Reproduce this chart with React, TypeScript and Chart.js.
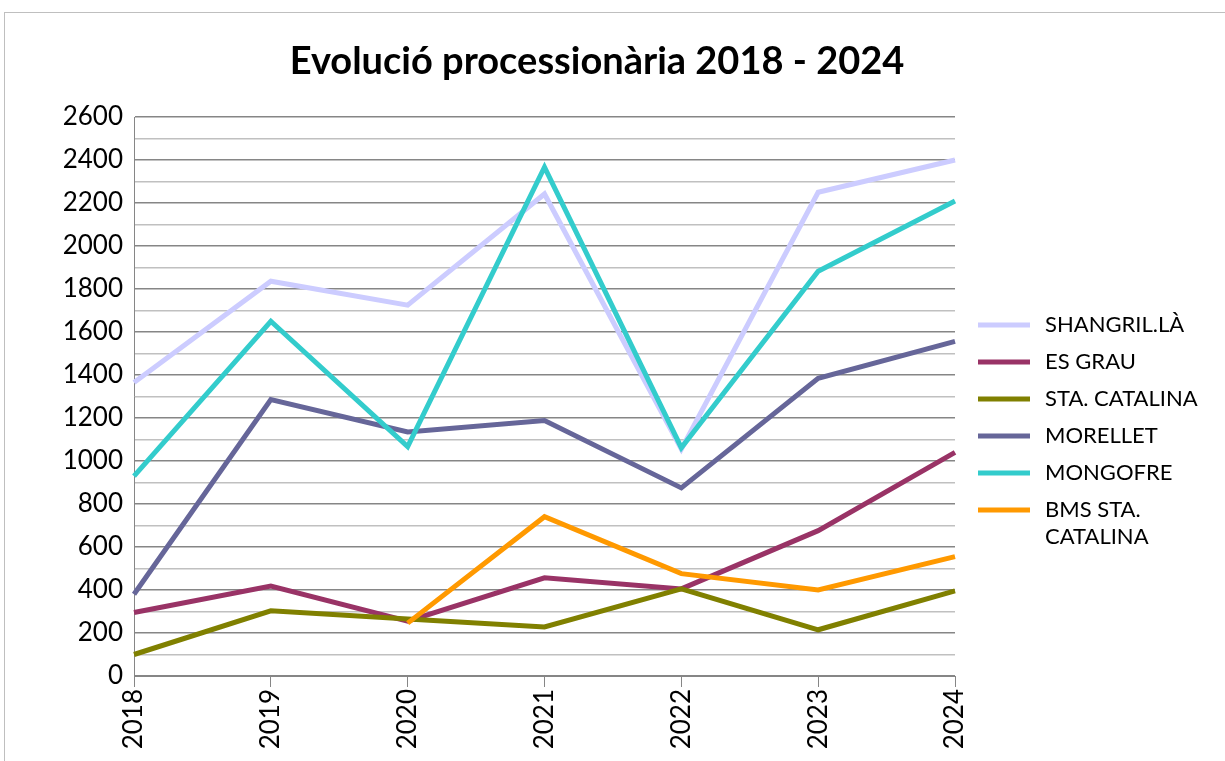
import React, { useEffect, useRef } from "react";
import { Chart, registerables } from "chart.js";

Chart.register(...registerables);

const years = ["2018", "2019", "2020", "2021", "2022", "2023", "2024"];
const shangrila = [1365, 1836, 1725, 2242, 1055, 2250, 2400];
const esGrau = [295, 418, 255, 457, 405, 676, 1040];
const staCatalina = [100, 303, 265, 228, 405, 215, 396];
const morellet = [380, 1286, 1135, 1188, 875, 1385, 1556];
const mongofre = [930, 1650, 1067, 2367, 1062, 1883, 2209];
const bmsStaCatalina = [null, null, 246, 741, 476, 400, 555];

const seriesNames = ["SHANGRIL.LÀ", "ES GRAU", "STA. CATALINA", "MORELLET", "MONGOFRE", "BMS STA. CATALINA"];
const legendLines = [["SHANGRIL.LÀ"], ["ES GRAU"], ["STA. CATALINA"], ["MORELLET"], ["MONGOFRE"], ["BMS STA.", "CATALINA"]];
const seriesColors = ["#CCCCFF", "#993366", "#808000", "#666699", "#33CCCC", "#FF9900"];
const titleText = "Evolució processionària 2018 - 2024";

const W = 1225;
const H = 800;
const FONT = "Lato, 'Open Sans', sans-serif";

export default function App() {
  const ref = useRef<HTMLCanvasElement | null>(null);

  useEffect(() => {
    const canvas = ref.current;
    if (!canvas) return;
    const seriesData = [shangrila, esGrau, staCatalina, morellet, mongofre, bmsStaCatalina];

    const decor = {
      id: "decor",
      beforeDraw(chart: any) {
        const ctx = chart.ctx;
        ctx.save();
        ctx.fillStyle = "#ffffff";
        ctx.fillRect(0, 0, chart.width, chart.height);
        ctx.strokeStyle = "#bfbfbf";
        ctx.lineWidth = 1;
        ctx.strokeRect(4.5, 12.5, 1400, 1000);
        ctx.restore();
      },
      afterDraw(chart: any) {
        const ctx = chart.ctx;
        ctx.save();
        ctx.fillStyle = "#000000";
        ctx.font = `bold 38px ${FONT}`;
        ctx.textAlign = "center";
        ctx.textBaseline = "middle";
        ctx.fillText(titleText, 597, 62);

        ctx.font = `22px ${FONT}`;
        ctx.textAlign = "left";
        chart.data.datasets.forEach((ds: any, i: number) => {
          const y = 325 + i * 37;
          ctx.strokeStyle = ds.borderColor;
          ctx.lineWidth = 5;
          ctx.beginPath();
          ctx.moveTo(978, y);
          ctx.lineTo(1030, y);
          ctx.stroke();
          ctx.fillStyle = "#000000";
          legendLines[i].forEach((t, j) => ctx.fillText(t, 1045, y + j * 27));
        });
        ctx.restore();
      },
    };

    const chart = new Chart(canvas, {
      type: "line",
      data: {
        labels: years,
        datasets: seriesNames.map((name, i) => ({
          label: name,
          data: seriesData[i],
          borderColor: seriesColors[i],
          backgroundColor: seriesColors[i],
          borderWidth: 5,
          pointRadius: 0,
          tension: 0,
          fill: false,
          order: 10 - i,
        })),
      },
      options: {
        animation: false,
        responsive: false,
        devicePixelRatio: 1,
        layout: { padding: { left: 0, right: W - 955, top: 117, bottom: 0 } },
        plugins: {
          legend: { display: false },
          title: { display: false },
          tooltip: { enabled: false },
        },
        scales: {
          x: {
            offset: false,
            grid: {
              drawOnChartArea: false,
              drawTicks: true,
              tickLength: 11,
              color: "#868686",
            },
            border: { color: "#868686", width: 1 },
            ticks: {
              color: "#000000",
              font: { family: FONT, size: 26 },
              minRotation: 90,
              maxRotation: 90,
              padding: 2,
              autoSkip: false,
            },
            afterFit(scale: any) {
              scale.height = H - 676;
            },
          },
          y: {
            min: 0,
            max: 2600,
            grid: {
              drawTicks: false,
              color: (c: any) => (c.tick && c.tick.value % 200 === 0 ? "#868686" : "#c0c0c0"),
              lineWidth: 1.5,
            },
            border: { color: "#868686", width: 1 },
            ticks: {
              stepSize: 100,
              maxTicksLimit: 40,
              autoSkip: false,
              padding: 11,
              color: "#000000",
              font: { family: FONT, size: 26 },
              callback: (v: any) => (Number(v) % 200 === 0 ? String(v) : ""),
            },
            afterFit(scale: any) {
              scale.width = 134;
            },
          },
        },
      },
      plugins: [decor],
    });

    return () => chart.destroy();
  }, []);

  return (
    <div style={{ position: "fixed", left: 0, top: 0, width: W, height: H, background: "#fff" }}>
      <canvas ref={ref} width={W} height={H} style={{ width: W, height: H, display: "block" }} />
    </div>
  );
}
